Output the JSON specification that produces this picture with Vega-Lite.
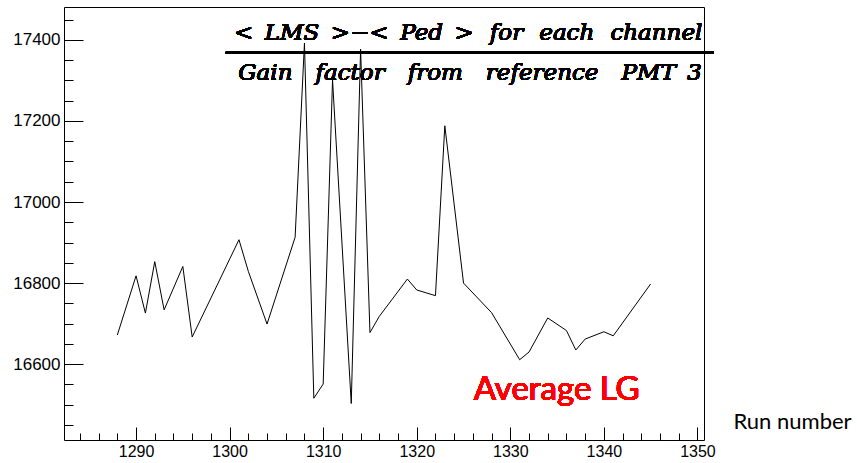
{
  "$schema": "https://vega.github.io/schema/vega-lite/v6.json",
  "width": 640,
  "height": 433,
  "autosize": {"type": "none"},
  "padding": {"left": 64, "top": 7, "right": 153, "bottom": 23},
  "background": "white",
  "config": {
    "view": {"stroke": "black", "strokeWidth": 1},
    "axis": {"grid": false, "domain": false, "tickColor": "black", "labelColor": "black", "labelFont": "Liberation Sans", "labelOverlap": false, "tickCount": 1000}
  },
  "data": {
    "values": [
      {"run": 1288, "value": 16672},
      {"run": 1290, "value": 16818},
      {"run": 1291, "value": 16726},
      {"run": 1292, "value": 16853},
      {"run": 1293, "value": 16734},
      {"run": 1295, "value": 16841},
      {"run": 1296, "value": 16667},
      {"run": 1301, "value": 16907},
      {"run": 1302, "value": 16829},
      {"run": 1304, "value": 16699},
      {"run": 1307, "value": 16913},
      {"run": 1308, "value": 17392},
      {"run": 1309, "value": 16516},
      {"run": 1310, "value": 16551},
      {"run": 1311, "value": 17301},
      {"run": 1313, "value": 16503},
      {"run": 1314, "value": 17377},
      {"run": 1315, "value": 16678},
      {"run": 1316, "value": 16718},
      {"run": 1319, "value": 16810},
      {"run": 1320, "value": 16783},
      {"run": 1322, "value": 16769},
      {"run": 1323, "value": 17188},
      {"run": 1325, "value": 16800},
      {"run": 1328, "value": 16727},
      {"run": 1331, "value": 16611},
      {"run": 1332, "value": 16630},
      {"run": 1334, "value": 16714},
      {"run": 1336, "value": 16683},
      {"run": 1337, "value": 16635},
      {"run": 1338, "value": 16662},
      {"run": 1340, "value": 16680},
      {"run": 1341, "value": 16670},
      {"run": 1345, "value": 16798}
    ]
  },
  "resolve": {"axis": {"x": "independent", "y": "independent"}},
  "layer": [
    {
      "mark": {"type": "line", "color": "black", "strokeWidth": 1},
      "encoding": {
        "x": {
          "field": "run", "type": "quantitative",
          "scale": {"domain": [1282.3, 1350.7], "nice": false, "zero": false},
          "axis": {
            "orient": "bottom",
            "values": [1284,1286,1288,1290,1292,1294,1296,1298,1300,1302,1304,1306,1308,1310,1312,1314,1316,1318,1320,1322,1324,1326,1328,1330,1332,1334,1336,1338,1340,1342,1344,1346,1348,1350],
            "labels": false,
            "tickSize": -7,
            "title": null
          }
        },
        "y": {
          "field": "value", "type": "quantitative",
          "scale": {"domain": [16413, 17481], "nice": false, "zero": false},
          "axis": {
            "orient": "left",
            "values": [16450,16500,16550,16600,16650,16700,16750,16800,16850,16900,16950,17000,17050,17100,17150,17200,17250,17300,17350,17400,17450],
            "labels": false,
            "tickSize": -9,
            "title": null
          }
        }
      }
    },
    {
      "mark": {"type": "text", "font": "DejaVu Serif", "fontStyle": "italic", "fontWeight": "normal", "fontSize": 23, "align": "center", "baseline": "alphabetic", "color": "black"},
      "encoding": {
        "x": {"datum": 1325.5, "type": "quantitative", "axis": null},
        "y": {"datum": 17400, "type": "quantitative", "axis": null},
        "text": {"value": "<\u2002LMS\u2002>−<\u2002Ped\u2002>\u2002\u2009for\u2002\u2009each\u2002\u2009channel"}
      }
    },
    {
      "mark": {"type": "rule", "color": "black", "strokeWidth": 2},
      "encoding": {
        "x": {"datum": 1299.6, "type": "quantitative", "axis": null},
        "x2": {"datum": 1351.7},
        "y": {"datum": 17368, "type": "quantitative", "axis": null}
      }
    },
    {
      "mark": {"type": "text", "font": "DejaVu Serif", "fontStyle": "italic", "fontWeight": "normal", "fontSize": 23, "align": "center", "baseline": "alphabetic", "color": "black"},
      "encoding": {
        "x": {"datum": 1325.7, "type": "quantitative", "axis": null},
        "y": {"datum": 17301, "type": "quantitative", "axis": null},
        "text": {"value": "Gain\u2003factor\u2003from\u2003reference\u2003PMT\u20023"}
      }
    },
    {
      "mark": {"type": "text", "font": "Lato", "fontSize": 33, "align": "left", "baseline": "alphabetic", "color": "#ff0000"},
      "encoding": {
        "x": {
          "datum": 1326.1, "type": "quantitative",
          "axis": {
            "orient": "bottom",
            "values": [1290,1300,1310,1320,1330,1340,1350],
            "format": "d",
            "tickSize": -13,
            "labelPadding": 16,
            "labelFontSize": 16,
            "labelBaseline": "top",
            "labelFlush": false,
            "title": "Run number",
            "titleFont": "Lato",
            "titleFontSize": 22,
            "titleFontWeight": "normal",
            "titleColor": "black",
            "titleAlign": "left",
            "titleBaseline": "alphabetic",
            "titleAnchor": "start",
            "titleX": 669,
            "titleY": -12
          }
        },
        "y": {
          "datum": 16512, "type": "quantitative",
          "axis": {
            "orient": "left",
            "values": [16600,16800,17000,17200,17400],
            "format": "d",
            "tickSize": -19,
            "labelPadding": 23,
            "labelFontSize": 17,
            "labelFlush": false,
            "title": null
          }
        },
        "text": {"value": "Average LG"}
      }
    }
  ]
}
